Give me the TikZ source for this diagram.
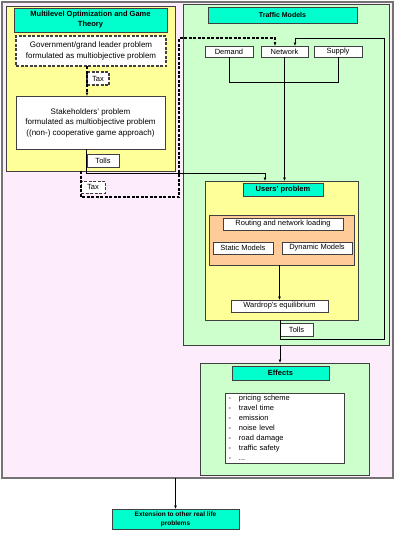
\documentclass[tikz,border=0pt]{standalone}
\usepackage{fontspec}
\setmainfont{Liberation Sans}
\usetikzlibrary{arrows.meta}

\definecolor{framepink}{RGB}{252,236,252}
\definecolor{panelyellow}{RGB}{255,255,153}
\definecolor{panelgreen}{RGB}{204,255,204}
\definecolor{headteal}{RGB}{0,255,204}
\definecolor{loadorange}{RGB}{255,204,153}

\tikzset{
	panel/.style={draw=black!75, line width=0.8pt, inner sep=0pt, outer sep=0pt},
	heading/.style={panel, fill=headteal, align=center,
		font=\bfseries\fontsize{7.5}{10}\selectfont},
	card/.style={panel, fill=white, align=center,
		font=\fontsize{7.5}{8}\selectfont},
	dashcard/.style={card, dash pattern=on 3pt off 1.5pt},
	taxline/.style={line width=1.1pt, dash pattern=on 3pt off 1.5pt},
	flow/.style={line width=0.7pt},
	tip/.style={-{Latex[length=3.5pt,width=3pt]}}
}

\begin{document}
\begin{tikzpicture}[x=1pt, y=-1pt]
	\useasboundingbox (0,0) rectangle (415,550);
	% Rahmen
	\node[panel, draw=black!55, line width=1.2pt, fill=framepink,
		minimum width=391, minimum height=476] (frame) at (197.5,240) {};
	% Multilevel Optimization
	\node[panel, fill=panelyellow, minimum width=169, minimum height=165]
		(ml) at (90.5,88.5) {};
	\node[heading, minimum width=153, minimum height=24] (mltitle) at (90.5,20)
		{Multilevel Optimization and Game\\Theory};
	\node[dashcard, line width=1.1pt, font=\fontsize{8}{10.5}\selectfont,
		minimum width=150, minimum height=30] (gov) at (91,51)
		{Government/grand leader problem\\formulated as multiobjective problem};
	\node[dashcard, line width=1.1pt, minimum width=22, minimum height=13]
		(tax1) at (98,78.5) {Tax};
	\node[card, font=\fontsize{8}{10.5}\selectfont,
		minimum width=149, minimum height=53] (stake) at (90.5,122.5)
		{Stakeholders' problem\\formulated as multiobjective problem\\((non-) cooperative game approach)};
	\node[card, minimum width=32, minimum height=13] (tolls1) at (103,160.5) {Tolls};
	\node[dashcard, minimum width=24, minimum height=12] (tax2) at (93,187) {Tax};
	% Traffic Models
	\node[panel, fill=panelgreen, minimum width=206, minimum height=341]
		(tm) at (286,174.5) {};
	\node[heading, font=\bfseries\fontsize{7}{8}\selectfont,
		minimum width=149, minimum height=16] (tmtitle) at (282.5,15) {Traffic Models};
	\node[card, minimum width=48, minimum height=11] (demand) at (229,51.5) {Demand};
	\node[card, minimum width=47, minimum height=11] (network) at (284.5,51.5) {Network};
	\node[card, minimum width=48, minimum height=11] (supply) at (338,51.5) {Supply};
	% Users' problem
	\node[panel, fill=panelyellow, minimum width=153, minimum height=139]
		(users) at (281.5,250.5) {};
	\node[heading, minimum width=80, minimum height=13] (userstitle) at (283,189.5)
		{Users' problem};
	\node[panel, fill=loadorange, minimum width=145, minimum height=50]
		(loading) at (281.5,240) {};
	\node[card, minimum width=120, minimum height=12] (routing) at (283,224)
		{Routing and network loading};
	\node[card, minimum width=60, minimum height=12] (static) at (243,248) {Static Models};
	\node[card, minimum width=70, minimum height=12] (dynamic) at (317,248) {Dynamic Models};
	\node[card, minimum width=97, minimum height=12] (wardrop) at (279.5,306)
		{Wardrop's equilibrium};
	\node[card, minimum width=33, minimum height=13] (tolls2) at (296.5,329.5) {Tolls};
	% Effects
	\node[panel, fill=panelgreen, minimum width=169, minimum height=112]
		(effects) at (284.5,419) {};
	\node[heading, minimum width=97, minimum height=14] (effectstitle) at (280.5,373)
		{Effects};
	\node[card, align=left, font=\fontsize{7.5}{10}\selectfont,
		text width=112, inner xsep=3pt, minimum width=119, minimum height=70]
		(effectslist) at (284.5,428)
		{-\hspace{8pt}pricing scheme\\-\hspace{8pt}travel time\\-\hspace{8pt}emission\\
		-\hspace{8pt}noise level\\-\hspace{8pt}road damage\\-\hspace{8pt}traffic safety\\
		-\hspace{8pt}...};
	% Erweiterung
	\node[heading, font=\bfseries\fontsize{6.5}{9}\selectfont,
		minimum width=127, minimum height=20] (extension) at (175.5,519)
		{Extension to other real life\\problems};
	% Hilfspunkte
	\coordinate (tollbend) at (86,173);
	\coordinate (usersin) at (265,181);
	\coordinate (taxlow) at (179,197);
	\coordinate (taxhigh) at (179,38);
	\coordinate (netleft) at (275,46);
	\coordinate (netright) at (295,46);
	\coordinate (loopbot) at (384,339);
	\coordinate (looptop) at (384,38);
	\coordinate (mergey) at (0,82);
	% Verbindungen
	\draw[taxline, tip] (gov.south -| tax1.west) -- (stake.north -| tax1.west);
	\draw[taxline, tip] (ml.south -| tax2.west) |- (taxlow) -- (taxhigh) -| (netleft);
	\draw[flow, tip] (stake.south -| tollbend) -- (tollbend) -| (usersin);
	\draw[flow] (demand.south) -- (demand.south |- mergey) -- (supply.south |- mergey)
		-- (supply.south);
	\draw[flow, tip] (network.south) -- (network.south |- users.north);
	\draw[flow, tip] (wardrop.north |- loading.south) -- (wardrop.north);
	\draw[flow, tip] (users.south -| tolls2.west) |- (loopbot) -- (looptop) -| (netright);
	\draw[flow, tip] (tm.south -| tolls2.west) -- (effects.north -| tolls2.west);
	\draw[flow, tip] (frame.south -| extension.north) -- (extension.north);
\end{tikzpicture}
\end{document}
